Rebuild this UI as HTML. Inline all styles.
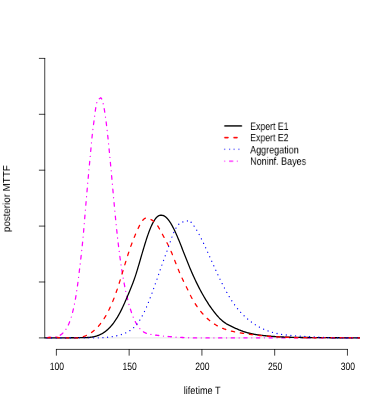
<!DOCTYPE html><html><head><meta charset="utf-8"><style>html,body{margin:0;padding:0;background:#fff}svg{display:block;will-change:transform}text{text-rendering:geometricPrecision;font-family:"Liberation Sans",sans-serif;font-size:13.1px;fill:#000}</style></head><body>
<svg width="382" height="409" viewBox="0 0 504 504" preserveAspectRatio="none">
<rect width="504" height="504" fill="#fff"/>
<clipPath id="c"><rect x="59.04" y="59.04" width="415.82" height="371.52"/></clipPath>
<line x1="59.04" y1="416.39" x2="473.76" y2="416.39" stroke="#d3d3d3" stroke-width="0.75"/>
<path d="M59.04,416.39 V71.96 M59.04,416.39 h-7.2 M59.04,347.50 h-7.2 M59.04,278.62 h-7.2 M59.04,209.73 h-7.2 M59.04,140.85 h-7.2 M59.04,71.96 h-7.2" stroke="#000" stroke-width="0.95" fill="none" stroke-linecap="round" stroke-linejoin="round"/>
<path d="M74.40,430.56 H458.40 M74.40,430.56 v7.2 M170.40,430.56 v7.2 M266.40,430.56 v7.2 M362.40,430.56 v7.2 M458.40,430.56 v7.2" stroke="#000" stroke-width="0.95" fill="none" stroke-linecap="round" stroke-linejoin="round"/>
 <text x="75.00" y="456.26" text-anchor="middle" textLength="18.87" lengthAdjust="spacingAndGlyphs">100</text>
 <text x="171.00" y="456.26" text-anchor="middle" textLength="18.87" lengthAdjust="spacingAndGlyphs">150</text>
 <text x="267.00" y="456.26" text-anchor="middle" textLength="18.87" lengthAdjust="spacingAndGlyphs">200</text>
 <text x="363.00" y="456.26" text-anchor="middle" textLength="18.87" lengthAdjust="spacingAndGlyphs">250</text>
 <text x="459.00" y="456.26" text-anchor="middle" textLength="18.87" lengthAdjust="spacingAndGlyphs">300</text>
<text x="266.80" y="485.96" text-anchor="middle" textLength="48.7" lengthAdjust="spacingAndGlyphs">lifetime T</text>
<text transform="translate(12.96,244.80) rotate(-90)" text-anchor="middle" textLength="82.4" lengthAdjust="spacingAndGlyphs">posterior MTTF</text>
<path d="M58.05,416.21 L58.38,416.17 L58.71,416.13 L59.04,416.10 L59.37,416.06 L59.70,416.04 L60.03,416.01 L60.36,415.99 L60.69,415.97 L61.02,415.96 L61.35,415.94 L61.68,415.93 L62.01,415.92 L62.34,415.91 L62.67,415.91 L63.00,415.91 L63.33,415.90 L63.66,415.90 L63.99,415.90 L64.32,415.90 L64.65,415.90 L64.98,415.90 L65.31,415.90 L65.64,415.90 L65.97,415.90 L66.30,415.90 L66.63,415.90 L66.96,415.90 L67.29,415.89 L67.62,415.89 L67.95,415.88 L68.28,415.87 L68.61,415.86 L68.94,415.85 L69.27,415.84 L69.60,415.82 L69.93,415.80 L70.26,415.77 L70.59,415.75 L70.92,415.72 L71.25,415.68 L71.58,415.64 L71.91,415.60 L72.24,415.56 L72.57,415.51 L72.90,415.45 L73.23,415.39 L73.55,415.32 L73.88,415.25 L74.21,415.18 L74.54,415.09 L74.87,415.01 L75.20,414.91 L75.53,414.81 L75.86,414.70 L76.19,414.59 L76.52,414.47 L76.85,414.34 L77.18,414.20 L77.51,414.06 L77.84,413.91 L78.17,413.75 L78.50,413.58 L78.83,413.41 L79.16,413.22 L79.49,413.03 L79.82,412.83 L80.15,412.62 L80.48,412.40 L80.81,412.17 L81.14,411.93 L81.47,411.67 L81.80,411.41 L82.13,411.14 L82.46,410.86 L82.79,410.57 L83.12,410.26 L83.45,409.95 L83.78,409.62 L84.11,409.28 L84.44,408.93 L84.77,408.57 L85.10,408.19 L85.43,407.81 L85.76,407.41 L86.09,406.99 L86.42,406.56 L86.75,406.12 L87.08,405.66 L87.41,405.18 L87.74,404.68 L88.07,404.16 L88.40,403.63 L88.73,403.07 L89.06,402.50 L89.39,401.90 L89.72,401.28 L90.05,400.63 L90.38,399.96 L90.71,399.26 L91.04,398.54 L91.37,397.79 L91.70,397.02 L92.03,396.21 L92.36,395.38 L92.69,394.51 L93.02,393.62 L93.35,392.69 L93.68,391.73 L94.01,390.73 L94.34,389.71 L94.66,388.64 L94.99,387.54 L95.32,386.41 L95.65,385.23 L95.98,384.02 L96.31,382.77 L96.64,381.48 L96.97,380.14 L97.30,378.77 L97.63,377.35 L97.96,375.89 L98.29,374.39 L98.62,372.84 L98.95,371.23 L99.28,369.58 L99.61,367.87 L99.94,366.10 L100.27,364.28 L100.60,362.39 L100.93,360.44 L101.26,358.42 L101.59,356.34 L101.92,354.18 L102.25,351.95 L102.58,349.65 L102.91,347.30 L103.24,344.89 L103.57,342.43 L103.90,339.94 L104.23,337.43 L104.56,334.89 L104.89,332.34 L105.22,329.78 L105.55,327.22 L105.88,324.64 L106.21,322.05 L106.54,319.42 L106.87,316.76 L107.20,314.06 L107.53,311.31 L107.86,308.50 L108.19,305.63 L108.52,302.68 L108.85,299.66 L109.18,296.55 L109.51,293.34 L109.84,290.04 L110.17,286.62 L110.50,283.11 L110.83,279.50 L111.16,275.83 L111.49,272.12 L111.82,268.38 L112.15,264.63 L112.48,260.89 L112.81,257.19 L113.14,253.53 L113.47,249.90 L113.80,246.32 L114.13,242.77 L114.46,239.25 L114.79,235.77 L115.12,232.31 L115.45,228.88 L115.77,225.48 L116.10,222.09 L116.43,218.73 L116.76,215.38 L117.09,212.05 L117.42,208.72 L117.75,205.41 L118.08,202.11 L118.41,198.81 L118.74,195.52 L119.07,192.22 L119.40,188.93 L119.73,185.63 L120.06,182.32 L120.39,179.02 L120.72,175.76 L121.05,172.56 L121.38,169.47 L121.71,166.51 L122.04,163.71 L122.37,161.05 L122.70,158.52 L123.03,156.08 L123.36,153.70 L123.69,151.36 L124.02,149.02 L124.35,146.67 L124.68,144.27 L125.01,141.85 L125.34,139.45 L125.67,137.13 L126.00,134.90 L126.33,132.84 L126.66,130.96 L126.99,129.32 L127.32,127.90 L127.65,126.68 L127.98,125.64 L128.31,124.77 L128.64,124.05 L128.97,123.46 L129.30,122.99 L129.63,122.61 L129.96,122.30 L130.29,122.06 L130.62,121.86 L130.95,121.68 L131.28,121.51 L131.61,121.32 L131.94,121.11 L132.27,120.84 L132.60,120.52 L132.93,120.56 L133.26,120.74 L133.59,121.05 L133.92,121.49 L134.25,122.07 L134.58,122.77 L134.91,123.60 L135.24,124.54 L135.57,125.61 L135.90,126.79 L136.23,128.09 L136.55,129.49 L136.88,131.00 L137.21,132.62 L137.54,134.33 L137.87,136.15 L138.20,138.06 L138.53,140.06 L138.86,142.16 L139.19,144.34 L139.52,146.60 L139.85,148.95 L140.18,151.37 L140.51,153.87 L140.84,156.45 L141.17,159.09 L141.50,161.80 L141.83,164.57 L142.16,167.40 L142.49,170.30 L142.82,173.25 L143.15,176.25 L143.48,179.30 L143.81,182.39 L144.14,185.53 L144.47,188.71 L144.80,191.92 L145.13,195.17 L145.46,198.45 L145.79,201.75 L146.12,205.08 L146.45,208.43 L146.78,211.79 L147.11,215.17 L147.44,218.56 L147.77,221.96 L148.10,225.37 L148.43,228.77 L148.76,232.17 L149.09,235.57 L149.42,238.96 L149.75,242.34 L150.08,245.71 L150.41,249.05 L150.74,252.38 L151.07,255.68 L151.40,258.96 L151.73,262.20 L152.06,265.41 L152.39,268.58 L152.72,271.72 L153.05,274.81 L153.38,277.85 L153.71,280.85 L154.04,283.79 L154.37,286.68 L154.70,289.52 L155.03,292.30 L155.36,295.02 L155.69,297.70 L156.02,300.32 L156.35,302.90 L156.68,305.42 L157.01,307.90 L157.34,310.32 L157.66,312.70 L157.99,315.03 L158.32,317.32 L158.65,319.56 L158.98,321.76 L159.31,323.91 L159.64,326.02 L159.97,328.09 L160.30,330.11 L160.63,332.10 L160.96,334.04 L161.29,335.95 L161.62,337.82 L161.95,339.64 L162.28,341.44 L162.61,343.19 L162.94,344.91 L163.27,346.60 L163.60,348.25 L163.93,349.87 L164.26,351.45 L164.59,353.00 L164.92,354.52 L165.25,356.02 L165.58,357.48 L165.91,358.91 L166.24,360.32 L166.57,361.69 L166.90,363.04 L167.23,364.37 L167.56,365.67 L167.89,366.94 L168.22,368.19 L168.55,369.42 L168.88,370.62 L169.21,371.80 L169.54,372.96 L169.87,374.09 L170.20,375.21 L170.53,376.29 L170.86,377.36 L171.19,378.40 L171.52,379.43 L171.85,380.43 L172.18,381.41 L172.51,382.36 L172.84,383.30 L173.17,384.22 L173.50,385.12 L173.83,385.99 L174.16,386.85 L174.49,387.69 L174.82,388.50 L175.15,389.30 L175.48,390.08 L175.81,390.84 L176.14,391.58 L176.47,392.31 L176.80,393.02 L177.13,393.70 L177.46,394.38 L177.79,395.03 L178.12,395.67 L178.45,396.29 L178.77,396.89 L179.10,397.48 L179.43,398.05 L179.76,398.61 L180.09,399.15 L180.42,399.67 L180.75,400.18 L181.08,400.67 L181.41,401.16 L181.74,401.62 L182.07,402.07 L182.40,402.51 L182.73,402.94 L183.06,403.35 L183.39,403.75 L183.72,404.13 L184.05,404.50 L184.38,404.86 L184.71,405.21 L185.04,405.55 L185.37,405.87 L185.70,406.18 L186.03,406.49 L186.36,406.78 L186.69,407.06 L187.02,407.33 L187.35,407.58 L187.68,407.83 L188.01,408.07 L188.34,408.30 L188.67,408.52 L189.00,408.74 L189.33,408.94 L189.66,409.13 L189.99,409.32 L190.32,409.50 L190.65,409.67 L190.98,409.83 L191.31,409.98 L191.64,410.13 L191.97,410.27 L192.30,410.41 L192.63,410.53 L192.96,410.66 L193.29,410.77 L193.62,410.88 L193.95,410.99 L194.28,411.09 L194.61,411.18 L194.94,411.27 L195.27,411.35 L195.60,411.44 L195.93,411.51 L196.26,411.59 L196.59,411.66 L196.92,411.72 L197.25,411.79 L197.58,411.85 L197.91,411.90 L198.24,411.96 L198.57,412.01 L198.90,412.07 L199.23,412.12 L199.55,412.16 L199.88,412.21 L200.21,412.26 L200.54,412.30 L200.87,412.35 L201.20,412.40 L201.53,412.44 L201.86,412.49 L202.19,412.53 L202.52,412.58 L202.85,412.62 L203.18,412.66 L203.51,412.71 L203.84,412.75 L204.17,412.79 L204.50,412.83 L204.83,412.88 L205.16,412.92 L205.49,412.96 L205.82,413.00 L206.15,413.04 L206.48,413.08 L206.81,413.12 L207.14,413.16 L207.47,413.20 L207.80,413.24 L208.13,413.28 L208.46,413.32 L208.79,413.36 L209.12,413.40 L209.45,413.44 L209.78,413.48 L210.11,413.51 L210.44,413.55 L210.77,413.59 L211.10,413.62 L211.43,413.66 L211.76,413.70 L212.09,413.73 L212.42,413.77 L212.75,413.80 L213.08,413.84 L213.41,413.87 L213.74,413.91 L214.07,413.94 L214.40,413.98 L214.73,414.01 L215.06,414.04 L215.39,414.08 L215.72,414.11 L216.05,414.14 L216.38,414.18 L216.71,414.21 L217.04,414.24 L217.37,414.27 L217.70,414.30 L218.03,414.33 L218.36,414.36 L218.69,414.40 L219.02,414.43 L219.35,414.46 L219.68,414.49 L220.01,414.52 L220.34,414.54 L220.66,414.57 L220.99,414.60 L221.32,414.63 L221.65,414.66 L221.98,414.69 L222.31,414.72 L222.64,414.74 L222.97,414.77 L223.30,414.80 L223.63,414.82 L223.96,414.85 L224.29,414.88 L224.62,414.90 L224.95,414.93 L225.28,414.95 L225.61,414.98 L225.94,415.00 L226.27,415.03 L226.60,415.05 L226.93,415.08 L227.26,415.10 L227.59,415.13 L227.92,415.15 L228.25,415.17 L228.58,415.20 L228.91,415.22 L229.24,415.24 L229.57,415.26 L229.90,415.29 L230.23,415.31 L230.56,415.33 L230.89,415.35 L231.22,415.37 L231.55,415.39 L231.88,415.42 L232.21,415.44 L232.54,415.46 L232.87,415.48 L233.20,415.50 L233.53,415.52 L233.86,415.54 L234.19,415.56 L234.52,415.57 L234.85,415.59 L235.18,415.61 L235.51,415.63 L235.84,415.65 L236.17,415.67 L236.50,415.68 L236.83,415.70 L237.16,415.72 L237.49,415.74 L237.82,415.75 L238.15,415.77 L238.48,415.79 L238.81,415.80 L239.14,415.82 L239.47,415.83 L239.80,415.85 L240.13,415.87 L240.46,415.88 L240.79,415.90 L241.12,415.91 L241.45,415.93 L241.77,415.94 L242.10,415.95 L242.43,415.97 L242.76,415.98 L243.09,416.00 L243.42,416.01 L243.75,416.02 L244.08,416.03 L244.41,416.05 L244.74,416.06 L245.07,416.07 L245.40,416.08 L245.73,416.10 L246.06,416.11 L246.39,416.12 L246.72,416.13 L247.05,416.14 L247.38,416.15 L247.71,416.16 L248.04,416.18 L248.37,416.19 L248.70,416.20 L249.03,416.21 L249.36,416.22 L249.69,416.23 L250.02,416.24 L250.35,416.24 L250.68,416.25 L251.01,416.26 L251.34,416.27 L251.67,416.28 L252.00,416.29 L252.33,416.30 L252.66,416.30 L252.99,416.31 L253.32,416.32 L253.65,416.33 L253.98,416.34 L254.31,416.34 L254.64,416.35 L254.97,416.36 L255.30,416.36 L255.63,416.37 L255.96,416.38 L256.29,416.38 L256.62,416.39 L256.95,416.39 L257.28,416.39 L257.61,416.39 L257.94,416.39 L258.27,416.39 L258.60,416.39 L258.93,416.39 L259.26,416.39 L259.59,416.39 L259.92,416.39 L260.25,416.39 L260.58,416.39 L260.91,416.39 L261.24,416.39 L261.57,416.39 L261.90,416.39 L262.23,416.39 L262.55,416.39 L262.88,416.39 L263.21,416.39 L263.54,416.39 L263.87,416.39 L264.20,416.39 L264.53,416.39 L264.86,416.39 L265.19,416.39 L265.52,416.39 L265.85,416.39 L266.18,416.39 L266.51,416.39 L266.84,416.39 L267.17,416.39 L267.50,416.39 L267.83,416.39 L268.16,416.39 L268.49,416.39 L268.82,416.39 L269.15,416.39 L269.48,416.39 L269.81,416.39 L270.14,416.39 L270.47,416.39 L270.80,416.39 L271.13,416.39 L271.46,416.39 L271.79,416.39 L272.12,416.39 L272.45,416.39 L272.78,416.39 L273.11,416.39 L273.44,416.39 L273.77,416.39 L274.10,416.39 L274.43,416.39 L274.76,416.39 L275.09,416.39 L275.42,416.39 L275.75,416.39 L276.08,416.39 L276.41,416.39 L276.74,416.39 L277.07,416.39 L277.40,416.39 L277.73,416.39 L278.06,416.39 L278.39,416.39 L278.72,416.39 L279.05,416.39 L279.38,416.39 L279.71,416.39 L280.04,416.39 L280.37,416.39 L280.70,416.39 L281.03,416.39 L281.36,416.39 L281.69,416.39 L282.02,416.39 L282.35,416.39 L282.68,416.39 L283.01,416.39 L283.34,416.39 L283.66,416.39 L283.99,416.39 L284.32,416.39 L284.65,416.39 L284.98,416.39 L285.31,416.39 L285.64,416.39 L285.97,416.39 L286.30,416.39 L286.63,416.39 L286.96,416.39 L287.29,416.39 L287.62,416.39 L287.95,416.39 L288.28,416.39 L288.61,416.39 L288.94,416.39 L289.27,416.39 L289.60,416.39 L289.93,416.39 L290.26,416.39 L290.59,416.39 L290.92,416.39 L291.25,416.39 L291.58,416.39 L291.91,416.39 L292.24,416.39 L292.57,416.39 L292.90,416.39 L293.23,416.39 L293.56,416.39 L293.89,416.39 L294.22,416.39 L294.55,416.39 L294.88,416.39 L295.21,416.39 L295.54,416.39 L295.87,416.39 L296.20,416.39 L296.53,416.39 L296.86,416.39 L297.19,416.39 L297.52,416.39 L297.85,416.39 L298.18,416.39 L298.51,416.39 L298.84,416.39 L299.17,416.39 L299.50,416.39 L299.83,416.39 L300.16,416.39 L300.49,416.39 L300.82,416.39 L301.15,416.39 L301.48,416.39 L301.81,416.39 L302.14,416.39 L302.47,416.39 L302.80,416.39 L303.13,416.39 L303.46,416.39 L303.79,416.39 L304.12,416.39 L304.45,416.39 L304.77,416.39 L305.10,416.39 L305.43,416.39 L305.76,416.39 L306.09,416.39 L306.42,416.39 L306.75,416.38 L307.08,416.38 L307.41,416.38 L307.74,416.38 L308.07,416.38 L308.40,416.38 L308.73,416.38 L309.06,416.38 L309.39,416.38 L309.72,416.37 L310.05,416.37 L310.38,416.37 L310.71,416.37 L311.04,416.37 L311.37,416.37 L311.70,416.37 L312.03,416.37 L312.36,416.37 L312.69,416.37 L313.02,416.36 L313.35,416.36 L313.68,416.36 L314.01,416.36 L314.34,416.36 L314.67,416.36 L315.00,416.36 L315.33,416.36 L315.66,416.36 L315.99,416.36 L316.32,416.36 L316.65,416.35 L316.98,416.35 L317.31,416.35 L317.64,416.35 L317.97,416.35 L318.30,416.35 L318.63,416.35 L318.96,416.35 L319.29,416.35 L319.62,416.35 L319.95,416.35 L320.28,416.35 L320.61,416.35 L320.94,416.35 L321.27,416.34 L321.60,416.34 L321.93,416.34 L322.26,416.34 L322.59,416.34 L322.92,416.34 L323.25,416.34 L323.58,416.34 L323.91,416.34 L324.24,416.34 L324.57,416.34 L324.90,416.34 L325.23,416.34 L325.55,416.34 L325.88,416.34 L326.21,416.34 L326.54,416.34 L326.87,416.34 L327.20,416.34 L327.53,416.34 L327.86,416.33 L328.19,416.33 L328.52,416.33 L328.85,416.33 L329.18,416.33 L329.51,416.33 L329.84,416.33 L330.17,416.33 L330.50,416.33 L330.83,416.33 L331.16,416.33 L331.49,416.33 L331.82,416.33 L332.15,416.33 L332.48,416.33 L332.81,416.33 L333.14,416.33 L333.47,416.33 L333.80,416.33 L334.13,416.33 L334.46,416.33 L334.79,416.33 L335.12,416.33 L335.45,416.33 L335.78,416.33 L336.11,416.33 L336.44,416.33 L336.77,416.33 L337.10,416.33 L337.43,416.33 L337.76,416.33 L338.09,416.33 L338.42,416.33 L338.75,416.33 L339.08,416.33 L339.41,416.33 L339.74,416.33 L340.07,416.33 L340.40,416.33 L340.73,416.33 L341.06,416.33 L341.39,416.33 L341.72,416.33 L342.05,416.33 L342.38,416.33 L342.71,416.33 L343.04,416.33 L343.37,416.33 L343.70,416.33 L344.03,416.33 L344.36,416.33 L344.69,416.33 L345.02,416.33 L345.35,416.33 L345.68,416.33 L346.01,416.33 L346.34,416.33 L346.66,416.33 L346.99,416.33 L347.32,416.33 L347.65,416.33 L347.98,416.33 L348.31,416.33 L348.64,416.33 L348.97,416.33 L349.30,416.33 L349.63,416.33 L349.96,416.33 L350.29,416.33 L350.62,416.33 L350.95,416.33 L351.28,416.33 L351.61,416.33 L351.94,416.33 L352.27,416.33 L352.60,416.33 L352.93,416.33 L353.26,416.33 L353.59,416.33 L353.92,416.33 L354.25,416.33 L354.58,416.33 L354.91,416.33 L355.24,416.33 L355.57,416.33 L355.90,416.33 L356.23,416.33 L356.56,416.34 L356.89,416.34 L357.22,416.34 L357.55,416.34 L357.88,416.34 L358.21,416.34 L358.54,416.34 L358.87,416.34 L359.20,416.34 L359.53,416.34 L359.86,416.34 L360.19,416.34 L360.52,416.34 L360.85,416.34 L361.18,416.34 L361.51,416.34 L361.84,416.34 L362.17,416.34 L362.50,416.34 L362.83,416.34 L363.16,416.34 L363.49,416.34 L363.82,416.34 L364.15,416.34 L364.48,416.34 L364.81,416.34 L365.14,416.34 L365.47,416.35 L365.80,416.35 L366.13,416.35 L366.46,416.35 L366.79,416.35 L367.12,416.35 L367.45,416.35 L367.77,416.35 L368.10,416.35 L368.43,416.35 L368.76,416.35 L369.09,416.35 L369.42,416.35 L369.75,416.35 L370.08,416.35 L370.41,416.35 L370.74,416.35 L371.07,416.35 L371.40,416.35 L371.73,416.35 L372.06,416.35 L372.39,416.36 L372.72,416.36 L373.05,416.36 L373.38,416.36 L373.71,416.36 L374.04,416.36 L374.37,416.36 L374.70,416.36 L375.03,416.36 L375.36,416.36 L375.69,416.36 L376.02,416.36 L376.35,416.36 L376.68,416.36 L377.01,416.36 L377.34,416.36 L377.67,416.36 L378.00,416.36 L378.33,416.36 L378.66,416.37 L378.99,416.37 L379.32,416.37 L379.65,416.37 L379.98,416.37 L380.31,416.37 L380.64,416.37 L380.97,416.37 L381.30,416.37 L381.63,416.37 L381.96,416.37 L382.29,416.37 L382.62,416.37 L382.95,416.37 L383.28,416.37 L383.61,416.37 L383.94,416.37 L384.27,416.37 L384.60,416.38 L384.93,416.38 L385.26,416.38 L385.59,416.38 L385.92,416.38 L386.25,416.38 L386.58,416.38 L386.91,416.38 L387.24,416.38 L387.57,416.38 L387.90,416.38 L388.23,416.38 L388.55,416.38 L388.88,416.38 L389.21,416.38 L389.54,416.38 L389.87,416.38 L390.20,416.38 L390.53,416.39 L390.86,416.39 L391.19,416.39 L391.52,416.39 L391.85,416.39 L392.18,416.39 L392.51,416.39 L392.84,416.39 L393.17,416.39 L393.50,416.39 L393.83,416.39 L394.16,416.39 L394.49,416.39 L394.82,416.39 L395.15,416.39 L395.48,416.39 L395.81,416.39 L396.14,416.39 L396.47,416.39 L396.80,416.39 L397.13,416.39 L397.46,416.39 L397.79,416.39 L398.12,416.39 L398.45,416.39 L398.78,416.39 L399.11,416.39 L399.44,416.39 L399.77,416.39 L400.10,416.39 L400.43,416.39 L400.76,416.39 L401.09,416.39 L401.42,416.39 L401.75,416.39 L402.08,416.39 L402.41,416.39 L402.74,416.39 L403.07,416.39 L403.40,416.39 L403.73,416.39 L404.06,416.39 L404.39,416.39 L404.72,416.39 L405.05,416.39 L405.38,416.39 L405.71,416.39 L406.04,416.39 L406.37,416.39 L406.70,416.39 L407.03,416.39 L407.36,416.39 L407.69,416.39 L408.02,416.39 L408.35,416.39 L408.68,416.39 L409.01,416.39 L409.34,416.39 L409.66,416.39 L409.99,416.39 L410.32,416.39 L410.65,416.39 L410.98,416.39 L411.31,416.39 L411.64,416.39 L411.97,416.39 L412.30,416.39 L412.63,416.39 L412.96,416.39 L413.29,416.39 L413.62,416.39 L413.95,416.39 L414.28,416.39 L414.61,416.39 L414.94,416.39 L415.27,416.39 L415.60,416.39 L415.93,416.39 L416.26,416.39 L416.59,416.39 L416.92,416.39 L417.25,416.39 L417.58,416.39 L417.91,416.39 L418.24,416.39 L418.57,416.39 L418.90,416.39 L419.23,416.39 L419.56,416.39 L419.89,416.39 L420.22,416.39 L420.55,416.39 L420.88,416.39 L421.21,416.39 L421.54,416.39 L421.87,416.39 L422.20,416.39 L422.53,416.39 L422.86,416.39 L423.19,416.39 L423.52,416.39 L423.85,416.39 L424.18,416.39 L424.51,416.39 L424.84,416.39 L425.17,416.39 L425.50,416.39 L425.83,416.39 L426.16,416.39 L426.49,416.39 L426.82,416.39 L427.15,416.39 L427.48,416.39 L427.81,416.39 L428.14,416.39 L428.47,416.39 L428.80,416.39 L429.13,416.39 L429.46,416.39 L429.79,416.39 L430.12,416.39 L430.45,416.39 L430.77,416.39 L431.10,416.39 L431.43,416.39 L431.76,416.39 L432.09,416.39 L432.42,416.39 L432.75,416.39 L433.08,416.39 L433.41,416.39 L433.74,416.39 L434.07,416.39 L434.40,416.39 L434.73,416.39 L435.06,416.39 L435.39,416.39 L435.72,416.39 L436.05,416.39 L436.38,416.39 L436.71,416.39 L437.04,416.39 L437.37,416.39 L437.70,416.39 L438.03,416.39 L438.36,416.39 L438.69,416.39 L439.02,416.39 L439.35,416.39 L439.68,416.39 L440.01,416.39 L440.34,416.39 L440.67,416.39 L441.00,416.39 L441.33,416.39 L441.66,416.39 L441.99,416.39 L442.32,416.39 L442.65,416.39 L442.98,416.39 L443.31,416.39 L443.64,416.39 L443.97,416.39 L444.30,416.39 L444.63,416.39 L444.96,416.39 L445.29,416.39 L445.62,416.39 L445.95,416.39 L446.28,416.39 L446.61,416.39 L446.94,416.39 L447.27,416.39 L447.60,416.39 L447.93,416.39 L448.26,416.39 L448.59,416.39 L448.92,416.39 L449.25,416.39 L449.58,416.39 L449.91,416.39 L450.24,416.39 L450.57,416.39 L450.90,416.39 L451.23,416.39 L451.55,416.39 L451.88,416.39 L452.21,416.39 L452.54,416.39 L452.87,416.39 L453.20,416.39 L453.53,416.39 L453.86,416.39 L454.19,416.39 L454.52,416.39 L454.85,416.39 L455.18,416.39 L455.51,416.39 L455.84,416.39 L456.17,416.39 L456.50,416.39 L456.83,416.39 L457.16,416.39 L457.49,416.39 L457.82,416.39 L458.15,416.39 L458.48,416.39 L458.81,416.39 L459.14,416.39 L459.47,416.38 L459.80,416.38 L460.13,416.38 L460.46,416.38 L460.79,416.38 L461.12,416.38 L461.45,416.38 L461.78,416.38 L462.11,416.38 L462.44,416.37 L462.77,416.37 L463.10,416.37 L463.43,416.37 L463.76,416.37 L464.09,416.37 L464.42,416.37 L464.75,416.37 L465.08,416.36 L465.41,416.36 L465.74,416.36 L466.07,416.36 L466.40,416.36 L466.73,416.36 L467.06,416.36 L467.39,416.36 L467.72,416.35 L468.05,416.35 L468.38,416.35 L468.71,416.35 L469.04,416.35 L469.37,416.35 L469.70,416.35 L470.03,416.34 L470.36,416.34 L470.69,416.34 L471.02,416.34 L471.35,416.34 L471.68,416.34 L472.01,416.34 L472.34,416.33 L472.66,416.33 L472.99,416.33 L473.32,416.33 L473.65,416.33 L473.98,416.33 L474.31,416.32 L474.64,416.32 L474.97,416.32 L475.30,416.32 L475.63,416.32 L475.96,416.31 L476.29,416.31" stroke="#f0f" stroke-width="1.65" stroke-dasharray="0.01 6.15 4.35 6.15" stroke-dashoffset="0.9" fill="none" stroke-linejoin="round" stroke-linecap="round" clip-path="url(#c)"/>
<path d="M58.05,416.32 L58.71,416.34 L59.37,416.36 L60.03,416.37 L60.69,416.39 L61.35,416.39 L62.01,416.39 L62.67,416.39 L63.33,416.39 L63.99,416.39 L64.65,416.39 L65.31,416.39 L65.97,416.39 L66.63,416.39 L67.29,416.39 L67.95,416.39 L68.61,416.39 L69.27,416.39 L69.93,416.39 L70.59,416.39 L71.25,416.39 L71.91,416.39 L72.57,416.39 L73.23,416.39 L73.88,416.39 L74.54,416.39 L75.20,416.39 L75.86,416.39 L76.52,416.39 L77.18,416.39 L77.84,416.39 L78.50,416.39 L79.16,416.39 L79.82,416.39 L80.48,416.39 L81.14,416.39 L81.80,416.39 L82.46,416.39 L83.12,416.39 L83.78,416.39 L84.44,416.38 L85.10,416.37 L85.76,416.36 L86.42,416.35 L87.08,416.34 L87.74,416.33 L88.40,416.32 L89.06,416.31 L89.72,416.31 L90.38,416.30 L91.04,416.29 L91.70,416.28 L92.36,416.27 L93.02,416.26 L93.68,416.25 L94.34,416.24 L94.99,416.23 L95.65,416.22 L96.31,416.21 L96.97,416.21 L97.63,416.20 L98.29,416.19 L98.95,416.18 L99.61,416.18 L100.27,416.17 L100.93,416.16 L101.59,416.16 L102.25,416.15 L102.91,416.15 L103.57,416.14 L104.23,416.14 L104.89,416.13 L105.55,416.13 L106.21,416.13 L106.87,416.13 L107.53,416.12 L108.19,416.12 L108.85,416.12 L109.51,416.11 L110.17,416.10 L110.83,416.10 L111.49,416.08 L112.15,416.07 L112.81,416.05 L113.47,416.03 L114.13,416.01 L114.79,415.98 L115.45,415.94 L116.10,415.90 L116.76,415.86 L117.42,415.81 L118.08,415.75 L118.74,415.68 L119.40,415.61 L120.06,415.53 L120.72,415.45 L121.38,415.35 L122.04,415.25 L122.70,415.14 L123.36,415.02 L124.02,414.88 L124.68,414.74 L125.34,414.59 L126.00,414.43 L126.66,414.25 L127.32,414.07 L127.98,413.87 L128.64,413.66 L129.30,413.44 L129.96,413.20 L130.62,412.95 L131.28,412.69 L131.94,412.41 L132.60,412.12 L133.26,411.81 L133.92,411.49 L134.58,411.15 L135.24,410.79 L135.90,410.42 L136.55,410.03 L137.21,409.62 L137.87,409.20 L138.53,408.76 L139.19,408.30 L139.85,407.82 L140.51,407.32 L141.17,406.80 L141.83,406.26 L142.49,405.70 L143.15,405.12 L143.81,404.52 L144.47,403.90 L145.13,403.25 L145.79,402.58 L146.45,401.89 L147.11,401.18 L147.77,400.44 L148.43,399.68 L149.09,398.90 L149.75,398.09 L150.41,397.26 L151.07,396.40 L151.73,395.51 L152.39,394.60 L153.05,393.66 L153.71,392.69 L154.37,391.70 L155.03,390.68 L155.69,389.63 L156.35,388.56 L157.01,387.45 L157.66,386.32 L158.32,385.15 L158.98,383.96 L159.64,382.75 L160.30,381.50 L160.96,380.24 L161.62,378.95 L162.28,377.64 L162.94,376.31 L163.60,374.96 L164.26,373.59 L164.92,372.20 L165.58,370.80 L166.24,369.38 L166.90,367.95 L167.56,366.50 L168.22,365.05 L168.88,363.58 L169.54,362.11 L170.20,360.62 L170.86,359.13 L171.52,357.63 L172.18,356.13 L172.84,354.62 L173.50,353.09 L174.16,351.55 L174.82,349.98 L175.48,348.37 L176.14,346.73 L176.80,345.05 L177.46,343.31 L178.12,341.51 L178.77,339.66 L179.43,337.76 L180.09,335.81 L180.75,333.81 L181.41,331.79 L182.07,329.73 L182.73,327.65 L183.39,325.54 L184.05,323.43 L184.71,321.30 L185.37,319.17 L186.03,317.05 L186.69,314.92 L187.35,312.81 L188.01,310.70 L188.67,308.61 L189.33,306.53 L189.99,304.47 L190.65,302.44 L191.31,300.43 L191.97,298.45 L192.63,296.50 L193.29,294.59 L193.95,292.72 L194.61,290.89 L195.27,289.10 L195.93,287.37 L196.59,285.68 L197.25,284.05 L197.91,282.48 L198.57,280.96 L199.23,279.51 L199.88,278.13 L200.54,276.81 L201.20,275.55 L201.86,274.37 L202.52,273.25 L203.18,272.20 L203.84,271.21 L204.50,270.31 L205.16,269.47 L205.82,268.70 L206.48,268.01 L207.14,267.40 L207.80,266.86 L208.46,266.39 L209.12,266.01 L209.78,265.70 L210.44,265.47 L211.10,265.33 L211.76,265.26 L212.42,265.28 L212.68,265.31 L213.08,265.29 L213.74,265.30 L214.40,265.38 L215.06,265.53 L215.72,265.74 L216.38,266.01 L217.04,266.35 L217.70,266.74 L218.36,267.20 L219.02,267.71 L219.68,268.28 L220.34,268.90 L220.99,269.57 L221.65,270.30 L222.31,271.08 L222.97,271.91 L223.63,272.78 L224.29,273.70 L224.95,274.66 L225.61,275.67 L226.27,276.72 L226.93,277.81 L227.59,278.94 L228.25,280.10 L228.91,281.30 L229.57,282.54 L230.23,283.81 L230.89,285.11 L231.55,286.44 L232.21,287.80 L232.87,289.19 L233.53,290.60 L234.19,292.03 L234.85,293.49 L235.51,294.97 L236.17,296.47 L236.83,297.99 L237.49,299.52 L238.15,301.06 L238.81,302.61 L239.47,304.18 L240.13,305.75 L240.79,307.32 L241.45,308.90 L242.10,310.48 L242.76,312.06 L243.42,313.64 L244.08,315.21 L244.74,316.78 L245.40,318.34 L246.06,319.90 L246.72,321.44 L247.38,322.98 L248.04,324.51 L248.70,326.02 L249.36,327.53 L250.02,329.02 L250.68,330.49 L251.34,331.95 L252.00,333.39 L252.66,334.82 L253.32,336.23 L253.98,337.63 L254.64,339.01 L255.30,340.38 L255.96,341.73 L256.62,343.06 L257.28,344.39 L257.94,345.69 L258.60,346.98 L259.26,348.26 L259.92,349.52 L260.58,350.77 L261.24,352.00 L261.90,353.21 L262.55,354.42 L263.21,355.61 L263.87,356.78 L264.53,357.94 L265.19,359.09 L265.85,360.22 L266.51,361.34 L267.17,362.44 L267.83,363.53 L268.49,364.61 L269.15,365.67 L269.81,366.72 L270.47,367.75 L271.13,368.78 L271.79,369.79 L272.45,370.78 L273.11,371.76 L273.77,372.73 L274.43,373.69 L275.09,374.63 L275.75,375.56 L276.41,376.48 L277.07,377.39 L277.73,378.28 L278.39,379.16 L279.05,380.02 L279.71,380.88 L280.37,381.72 L281.03,382.55 L281.69,383.37 L282.35,384.17 L283.01,384.96 L283.66,385.74 L284.32,386.50 L284.98,387.25 L285.64,387.98 L286.30,388.70 L286.96,389.40 L287.62,390.08 L288.28,390.75 L288.94,391.41 L289.60,392.04 L290.26,392.66 L290.92,393.26 L291.58,393.85 L292.24,394.41 L292.90,394.96 L293.56,395.49 L294.22,396.00 L294.88,396.49 L295.54,396.96 L296.20,397.41 L296.86,397.84 L297.52,398.25 L298.18,398.65 L298.84,399.03 L299.50,399.40 L300.16,399.76 L300.82,400.10 L301.48,400.43 L302.14,400.76 L302.80,401.07 L303.46,401.38 L304.12,401.68 L304.77,401.97 L305.43,402.27 L306.09,402.56 L306.75,402.84 L307.41,403.13 L308.07,403.42 L308.73,403.70 L309.39,403.98 L310.05,404.26 L310.71,404.54 L311.37,404.82 L312.03,405.09 L312.69,405.36 L313.35,405.62 L314.01,405.89 L314.67,406.15 L315.33,406.40 L315.99,406.66 L316.65,406.90 L317.31,407.15 L317.97,407.39 L318.63,407.62 L319.29,407.85 L319.95,408.08 L320.61,408.30 L321.27,408.52 L321.93,408.72 L322.59,408.93 L323.25,409.13 L323.91,409.32 L324.57,409.51 L325.23,409.69 L325.88,409.86 L326.54,410.04 L327.20,410.20 L327.86,410.36 L328.52,410.52 L329.18,410.67 L329.84,410.82 L330.50,410.96 L331.16,411.10 L331.82,411.24 L332.48,411.37 L333.14,411.49 L333.80,411.61 L334.46,411.73 L335.12,411.85 L335.78,411.96 L336.44,412.07 L337.10,412.17 L337.76,412.28 L338.42,412.37 L339.08,412.47 L339.74,412.56 L340.40,412.65 L341.06,412.74 L341.72,412.83 L342.38,412.91 L343.04,412.99 L343.70,413.07 L344.36,413.15 L345.02,413.22 L345.68,413.30 L346.34,413.37 L346.99,413.44 L347.65,413.51 L348.31,413.58 L348.97,413.64 L349.63,413.71 L350.29,413.77 L350.95,413.83 L351.61,413.90 L352.27,413.96 L352.93,414.01 L353.59,414.07 L354.25,414.13 L354.91,414.18 L355.57,414.24 L356.23,414.29 L356.89,414.34 L357.55,414.39 L358.21,414.44 L358.87,414.49 L359.53,414.54 L360.19,414.58 L360.85,414.63 L361.51,414.67 L362.17,414.71 L362.83,414.76 L363.49,414.80 L364.15,414.84 L364.81,414.87 L365.47,414.91 L366.13,414.95 L366.79,414.98 L367.45,415.02 L368.10,415.05 L368.76,415.09 L369.42,415.12 L370.08,415.15 L370.74,415.18 L371.40,415.21 L372.06,415.24 L372.72,415.27 L373.38,415.29 L374.04,415.32 L374.70,415.34 L375.36,415.37 L376.02,415.39 L376.68,415.42 L377.34,415.44 L378.00,415.46 L378.66,415.48 L379.32,415.50 L379.98,415.52 L380.64,415.54 L381.30,415.56 L381.96,415.58 L382.62,415.59 L383.28,415.61 L383.94,415.63 L384.60,415.64 L385.26,415.66 L385.92,415.67 L386.58,415.68 L387.24,415.70 L387.90,415.71 L388.55,415.72 L389.21,415.73 L389.87,415.75 L390.53,415.76 L391.19,415.77 L391.85,415.78 L392.51,415.79 L393.17,415.80 L393.83,415.81 L394.49,415.81 L395.15,415.82 L395.81,415.83 L396.47,415.84 L397.13,415.84 L397.79,415.85 L398.45,415.86 L399.11,415.87 L399.77,415.87 L400.43,415.88 L401.09,415.88 L401.75,415.89 L402.41,415.89 L403.07,415.90 L403.73,415.90 L404.39,415.91 L405.05,415.91 L405.71,415.92 L406.37,415.92 L407.03,415.93 L407.69,415.93 L408.35,415.94 L409.01,415.94 L409.66,415.95 L410.32,415.95 L410.98,415.95 L411.64,415.96 L412.30,415.96 L412.96,415.97 L413.62,415.97 L414.28,415.98 L414.94,415.98 L415.60,415.99 L416.26,415.99 L416.92,416.00 L417.58,416.00 L418.24,416.01 L418.90,416.01 L419.56,416.02 L420.22,416.02 L420.88,416.03 L421.54,416.03 L422.20,416.04 L422.86,416.04 L423.52,416.05 L424.18,416.06 L424.84,416.06 L425.50,416.07 L426.16,416.07 L426.82,416.08 L427.48,416.08 L428.14,416.09 L428.80,416.10 L429.46,416.10 L430.12,416.11 L430.77,416.11 L431.43,416.12 L432.09,416.13 L432.75,416.13 L433.41,416.14 L434.07,416.14 L434.73,416.15 L435.39,416.16 L436.05,416.16 L436.71,416.17 L437.37,416.17 L438.03,416.18 L438.69,416.18 L439.35,416.19 L440.01,416.20 L440.67,416.20 L441.33,416.21 L441.99,416.21 L442.65,416.22 L443.31,416.22 L443.97,416.23 L444.63,416.23 L445.29,416.24 L445.95,416.24 L446.61,416.25 L447.27,416.25 L447.93,416.25 L448.59,416.26 L449.25,416.26 L449.91,416.27 L450.57,416.27 L451.23,416.27 L451.88,416.28 L452.54,416.28 L453.20,416.28 L453.86,416.29 L454.52,416.29 L455.18,416.29 L455.84,416.29 L456.50,416.30 L457.16,416.30 L457.82,416.30 L458.48,416.30 L459.14,416.30 L459.80,416.30 L460.46,416.30 L461.12,416.31 L461.78,416.31 L462.44,416.31 L463.10,416.31 L463.76,416.31 L464.42,416.31 L465.08,416.30 L465.74,416.30 L466.40,416.30 L467.06,416.30 L467.72,416.30 L468.38,416.30 L469.04,416.29 L469.70,416.29 L470.36,416.29 L471.02,416.28 L471.68,416.28 L472.34,416.28 L472.99,416.27 L473.65,416.27 L474.31,416.26 L474.97,416.26 L475.63,416.25 L476.29,416.24" stroke="#000" stroke-width="1.65" fill="none" stroke-linejoin="round" stroke-linecap="round" clip-path="url(#c)"/>
<path d="M58.05,416.39 L58.71,416.39 L59.37,416.39 L60.03,416.39 L60.69,416.38 L61.35,416.28 L62.01,416.19 L62.67,416.12 L63.33,416.05 L63.99,415.98 L64.65,415.93 L65.31,415.88 L65.97,415.84 L66.63,415.81 L67.29,415.78 L67.95,415.76 L68.61,415.74 L69.27,415.74 L69.93,415.73 L70.59,415.73 L71.25,415.74 L71.91,415.75 L72.57,415.77 L73.23,415.79 L73.88,415.81 L74.54,415.84 L75.20,415.87 L75.86,415.90 L76.52,415.94 L77.18,415.98 L77.84,416.02 L78.50,416.06 L79.16,416.10 L79.82,416.15 L80.48,416.19 L81.14,416.24 L81.80,416.29 L82.46,416.34 L83.12,416.38 L83.78,416.39 L84.44,416.39 L85.10,416.39 L85.76,416.39 L86.42,416.39 L87.08,416.39 L87.74,416.39 L88.40,416.39 L89.06,416.39 L89.72,416.39 L90.38,416.39 L91.04,416.39 L91.70,416.39 L92.36,416.39 L93.02,416.39 L93.68,416.39 L94.34,416.39 L94.99,416.39 L95.65,416.39 L96.31,416.39 L96.97,416.39 L97.63,416.39 L98.29,416.39 L98.95,416.39 L99.61,416.39 L100.27,416.39 L100.93,416.39 L101.59,416.39 L102.25,416.39 L102.91,416.34 L103.57,416.24 L104.23,416.13 L104.89,416.02 L105.55,415.89 L106.21,415.76 L106.87,415.61 L107.53,415.46 L108.19,415.29 L108.85,415.11 L109.51,414.93 L110.17,414.72 L110.83,414.51 L111.49,414.29 L112.15,414.05 L112.81,413.80 L113.47,413.54 L114.13,413.26 L114.79,412.97 L115.45,412.67 L116.10,412.35 L116.76,412.01 L117.42,411.67 L118.08,411.30 L118.74,410.93 L119.40,410.53 L120.06,410.12 L120.72,409.70 L121.38,409.26 L122.04,408.80 L122.70,408.32 L123.36,407.83 L124.02,407.32 L124.68,406.79 L125.34,406.24 L126.00,405.68 L126.66,405.09 L127.32,404.49 L127.98,403.86 L128.64,403.22 L129.30,402.55 L129.96,401.86 L130.62,401.15 L131.28,400.42 L131.94,399.67 L132.60,398.89 L133.26,398.09 L133.92,397.26 L134.58,396.41 L135.24,395.53 L135.90,394.63 L136.55,393.70 L137.21,392.75 L137.87,391.77 L138.53,390.76 L139.19,389.73 L139.85,388.66 L140.51,387.57 L141.17,386.45 L141.83,385.30 L142.49,384.12 L143.15,382.90 L143.81,381.66 L144.47,380.39 L145.13,379.08 L145.79,377.75 L146.45,376.38 L147.11,374.97 L147.77,373.54 L148.43,372.06 L149.09,370.56 L149.75,369.02 L150.41,367.44 L151.07,365.83 L151.73,364.19 L152.39,362.50 L153.05,360.78 L153.71,359.02 L154.37,357.23 L155.03,355.39 L155.69,353.53 L156.35,351.63 L157.01,349.70 L157.66,347.75 L158.32,345.78 L158.98,343.78 L159.64,341.78 L160.30,339.76 L160.96,337.72 L161.62,335.69 L162.28,333.64 L162.94,331.60 L163.60,329.56 L164.26,327.53 L164.92,325.50 L165.58,323.48 L166.24,321.48 L166.90,319.50 L167.56,317.53 L168.22,315.59 L168.88,313.68 L169.54,311.79 L170.20,309.94 L170.86,308.12 L171.52,306.33 L172.18,304.57 L172.84,302.85 L173.50,301.16 L174.16,299.50 L174.82,297.87 L175.48,296.26 L176.14,294.69 L176.80,293.15 L177.46,291.64 L178.12,290.15 L178.77,288.69 L179.43,287.26 L180.09,285.86 L180.75,284.48 L181.41,283.13 L182.07,281.81 L182.73,280.50 L183.39,279.23 L184.05,277.99 L184.71,276.80 L185.37,275.66 L186.03,274.58 L186.69,273.57 L187.35,272.64 L188.01,271.79 L188.67,271.03 L189.33,270.37 L189.99,269.83 L190.65,269.40 L191.31,269.09 L191.97,268.88 L192.63,268.78 L193.29,268.76 L193.95,268.81 L194.61,268.91 L195.27,269.07 L195.93,269.26 L196.59,269.47 L197.25,269.70 L197.91,269.96 L198.57,270.24 L199.23,270.54 L199.88,270.88 L200.54,271.25 L201.20,271.65 L201.86,272.09 L202.52,272.57 L203.18,273.09 L203.84,273.66 L204.50,274.27 L205.16,274.93 L205.82,275.64 L206.48,276.40 L207.14,277.22 L207.80,278.09 L208.46,279.03 L209.12,280.02 L209.78,281.05 L210.44,282.13 L211.10,283.24 L211.76,284.37 L212.42,285.51 L213.08,286.67 L213.74,287.82 L214.40,288.96 L215.06,290.10 L215.72,291.23 L216.38,292.35 L217.04,293.48 L217.70,294.61 L218.36,295.75 L219.02,296.89 L219.68,298.05 L220.34,299.22 L220.99,300.42 L221.65,301.63 L222.31,302.87 L222.97,304.14 L223.63,305.44 L224.29,306.77 L224.95,308.14 L225.61,309.55 L226.27,310.99 L226.93,312.47 L227.59,313.98 L228.25,315.51 L228.91,317.06 L229.57,318.63 L230.23,320.21 L230.89,321.80 L231.55,323.39 L232.21,324.98 L232.87,326.56 L233.53,328.14 L234.19,329.70 L234.85,331.25 L235.51,332.77 L236.17,334.26 L236.83,335.73 L237.49,337.16 L238.15,338.56 L238.81,339.93 L239.47,341.27 L240.13,342.58 L240.79,343.88 L241.45,345.16 L242.10,346.42 L242.76,347.67 L243.42,348.92 L244.08,350.17 L244.74,351.41 L245.40,352.66 L246.06,353.91 L246.72,355.18 L247.38,356.45 L248.04,357.75 L248.70,359.06 L249.36,360.37 L250.02,361.68 L250.68,362.96 L251.34,364.20 L252.00,365.41 L252.66,366.58 L253.32,367.72 L253.98,368.83 L254.64,369.91 L255.30,370.96 L255.96,371.99 L256.62,372.98 L257.28,373.96 L257.94,374.91 L258.60,375.84 L259.26,376.75 L259.92,377.64 L260.58,378.52 L261.24,379.38 L261.90,380.22 L262.55,381.05 L263.21,381.85 L263.87,382.65 L264.53,383.42 L265.19,384.18 L265.85,384.93 L266.51,385.66 L267.17,386.37 L267.83,387.07 L268.49,387.75 L269.15,388.42 L269.81,389.08 L270.47,389.72 L271.13,390.34 L271.79,390.95 L272.45,391.55 L273.11,392.14 L273.77,392.71 L274.43,393.26 L275.09,393.81 L275.75,394.34 L276.41,394.86 L277.07,395.36 L277.73,395.86 L278.39,396.34 L279.05,396.81 L279.71,397.27 L280.37,397.71 L281.03,398.15 L281.69,398.57 L282.35,398.99 L283.01,399.39 L283.66,399.78 L284.32,400.16 L284.98,400.53 L285.64,400.90 L286.30,401.25 L286.96,401.59 L287.62,401.92 L288.28,402.24 L288.94,402.56 L289.60,402.86 L290.26,403.16 L290.92,403.45 L291.58,403.73 L292.24,404.00 L292.90,404.26 L293.56,404.52 L294.22,404.77 L294.88,405.01 L295.54,405.24 L296.20,405.47 L296.86,405.69 L297.52,405.91 L298.18,406.11 L298.84,406.32 L299.50,406.51 L300.16,406.70 L300.82,406.88 L301.48,407.06 L302.14,407.24 L302.80,407.41 L303.46,407.57 L304.12,407.73 L304.77,407.88 L305.43,408.03 L306.09,408.18 L306.75,408.32 L307.41,408.46 L308.07,408.60 L308.73,408.73 L309.39,408.86 L310.05,408.98 L310.71,409.11 L311.37,409.23 L312.03,409.35 L312.69,409.46 L313.35,409.58 L314.01,409.69 L314.67,409.80 L315.33,409.91 L315.99,410.02 L316.65,410.12 L317.31,410.23 L317.97,410.33 L318.63,410.44 L319.29,410.54 L319.95,410.64 L320.61,410.74 L321.27,410.84 L321.93,410.94 L322.59,411.03 L323.25,411.13 L323.91,411.22 L324.57,411.31 L325.23,411.41 L325.88,411.50 L326.54,411.59 L327.20,411.67 L327.86,411.76 L328.52,411.85 L329.18,411.93 L329.84,412.01 L330.50,412.10 L331.16,412.18 L331.82,412.26 L332.48,412.34 L333.14,412.42 L333.80,412.49 L334.46,412.57 L335.12,412.64 L335.78,412.72 L336.44,412.79 L337.10,412.86 L337.76,412.93 L338.42,413.00 L339.08,413.07 L339.74,413.14 L340.40,413.21 L341.06,413.27 L341.72,413.34 L342.38,413.40 L343.04,413.46 L343.70,413.53 L344.36,413.59 L345.02,413.65 L345.68,413.71 L346.34,413.76 L346.99,413.82 L347.65,413.88 L348.31,413.93 L348.97,413.99 L349.63,414.04 L350.29,414.10 L350.95,414.15 L351.61,414.20 L352.27,414.25 L352.93,414.30 L353.59,414.35 L354.25,414.39 L354.91,414.44 L355.57,414.49 L356.23,414.53 L356.89,414.58 L357.55,414.62 L358.21,414.66 L358.87,414.71 L359.53,414.75 L360.19,414.79 L360.85,414.83 L361.51,414.87 L362.17,414.90 L362.83,414.94 L363.49,414.98 L364.15,415.01 L364.81,415.05 L365.47,415.08 L366.13,415.12 L366.79,415.15 L367.45,415.18 L368.10,415.21 L368.76,415.24 L369.42,415.28 L370.08,415.30 L370.74,415.33 L371.40,415.36 L372.06,415.39 L372.72,415.42 L373.38,415.44 L374.04,415.47 L374.70,415.49 L375.36,415.52 L376.02,415.54 L376.68,415.57 L377.34,415.59 L378.00,415.61 L378.66,415.63 L379.32,415.65 L379.98,415.67 L380.64,415.69 L381.30,415.71 L381.96,415.73 L382.62,415.75 L383.28,415.77 L383.94,415.79 L384.60,415.80 L385.26,415.82 L385.92,415.83 L386.58,415.85 L387.24,415.86 L387.90,415.88 L388.55,415.89 L389.21,415.91 L389.87,415.92 L390.53,415.93 L391.19,415.94 L391.85,415.96 L392.51,415.97 L393.17,415.98 L393.83,415.99 L394.49,416.00 L395.15,416.01 L395.81,416.02 L396.47,416.03 L397.13,416.03 L397.79,416.04 L398.45,416.05 L399.11,416.06 L399.77,416.06 L400.43,416.07 L401.09,416.08 L401.75,416.08 L402.41,416.09 L403.07,416.09 L403.73,416.10 L404.39,416.10 L405.05,416.11 L405.71,416.11 L406.37,416.12 L407.03,416.12 L407.69,416.12 L408.35,416.13 L409.01,416.13 L409.66,416.13 L410.32,416.13 L410.98,416.14 L411.64,416.14 L412.30,416.14 L412.96,416.14 L413.62,416.14 L414.28,416.14 L414.94,416.15 L415.60,416.15 L416.26,416.15 L416.92,416.15 L417.58,416.15 L418.24,416.15 L418.90,416.15 L419.56,416.15 L420.22,416.15 L420.88,416.15 L421.54,416.15 L422.20,416.15 L422.86,416.15 L423.52,416.15 L424.18,416.14 L424.84,416.14 L425.50,416.14 L426.16,416.14 L426.82,416.14 L427.48,416.14 L428.14,416.14 L428.80,416.14 L429.46,416.14 L430.12,416.14 L430.77,416.13 L431.43,416.13 L432.09,416.13 L432.75,416.13 L433.41,416.13 L434.07,416.13 L434.73,416.13 L435.39,416.13 L436.05,416.13 L436.71,416.13 L437.37,416.12 L438.03,416.12 L438.69,416.12 L439.35,416.12 L440.01,416.12 L440.67,416.12 L441.33,416.12 L441.99,416.12 L442.65,416.12 L443.31,416.12 L443.97,416.12 L444.63,416.12 L445.29,416.12 L445.95,416.12 L446.61,416.12 L447.27,416.12 L447.93,416.13 L448.59,416.13 L449.25,416.13 L449.91,416.13 L450.57,416.13 L451.23,416.13 L451.88,416.14 L452.54,416.14 L453.20,416.14 L453.86,416.14 L454.52,416.15 L455.18,416.15 L455.84,416.16 L456.50,416.16 L457.16,416.16 L457.82,416.17 L458.48,416.17 L459.14,416.18 L459.80,416.18 L460.46,416.19 L461.12,416.20 L461.78,416.20 L462.44,416.21 L463.10,416.22 L463.76,416.22 L464.42,416.23 L465.08,416.24 L465.74,416.25 L466.40,416.26 L467.06,416.27 L467.72,416.28 L468.38,416.29 L469.04,416.30 L469.70,416.31 L470.36,416.32 L471.02,416.33 L471.68,416.35 L472.34,416.36 L472.99,416.37 L473.65,416.39 L474.31,416.39 L474.97,416.39 L475.63,416.39 L476.29,416.39" stroke="#f00" stroke-width="1.65" stroke-dasharray="4.35 7.65" stroke-dashoffset="7.9" fill="none" stroke-linejoin="round" stroke-linecap="round" clip-path="url(#c)"/>
<path d="M58.05,416.35 L58.71,416.36 L59.37,416.37 L60.03,416.37 L60.69,416.38 L61.35,416.38 L62.01,416.39 L62.67,416.39 L63.33,416.39 L63.99,416.39 L64.65,416.39 L65.31,416.39 L65.97,416.39 L66.63,416.39 L67.29,416.39 L67.95,416.39 L68.61,416.39 L69.27,416.39 L69.93,416.39 L70.59,416.39 L71.25,416.39 L71.91,416.39 L72.57,416.39 L73.23,416.39 L73.88,416.39 L74.54,416.39 L75.20,416.39 L75.86,416.39 L76.52,416.39 L77.18,416.39 L77.84,416.39 L78.50,416.39 L79.16,416.39 L79.82,416.39 L80.48,416.39 L81.14,416.39 L81.80,416.39 L82.46,416.39 L83.12,416.39 L83.78,416.39 L84.44,416.39 L85.10,416.39 L85.76,416.39 L86.42,416.39 L87.08,416.39 L87.74,416.39 L88.40,416.38 L89.06,416.38 L89.72,416.38 L90.38,416.38 L91.04,416.37 L91.70,416.37 L92.36,416.37 L93.02,416.36 L93.68,416.36 L94.34,416.36 L94.99,416.35 L95.65,416.35 L96.31,416.35 L96.97,416.35 L97.63,416.34 L98.29,416.34 L98.95,416.34 L99.61,416.33 L100.27,416.33 L100.93,416.33 L101.59,416.33 L102.25,416.33 L102.91,416.32 L103.57,416.32 L104.23,416.32 L104.89,416.32 L105.55,416.32 L106.21,416.32 L106.87,416.32 L107.53,416.32 L108.19,416.31 L108.85,416.31 L109.51,416.31 L110.17,416.31 L110.83,416.32 L111.49,416.32 L112.15,416.32 L112.81,416.32 L113.47,416.32 L114.13,416.32 L114.79,416.32 L115.45,416.33 L116.10,416.33 L116.76,416.33 L117.42,416.33 L118.08,416.34 L118.74,416.34 L119.40,416.34 L120.06,416.34 L120.72,416.34 L121.38,416.35 L122.04,416.35 L122.70,416.35 L123.36,416.34 L124.02,416.34 L124.68,416.34 L125.34,416.34 L126.00,416.33 L126.66,416.32 L127.32,416.32 L127.98,416.31 L128.64,416.30 L129.30,416.28 L129.96,416.27 L130.62,416.25 L131.28,416.24 L131.94,416.22 L132.60,416.19 L133.26,416.17 L133.92,416.14 L134.58,416.11 L135.24,416.08 L135.90,416.05 L136.55,416.01 L137.21,415.97 L137.87,415.93 L138.53,415.89 L139.19,415.84 L139.85,415.79 L140.51,415.74 L141.17,415.68 L141.83,415.62 L142.49,415.55 L143.15,415.49 L143.81,415.41 L144.47,415.34 L145.13,415.26 L145.79,415.18 L146.45,415.09 L147.11,415.00 L147.77,414.91 L148.43,414.81 L149.09,414.70 L149.75,414.59 L150.41,414.48 L151.07,414.36 L151.73,414.24 L152.39,414.12 L153.05,413.98 L153.71,413.85 L154.37,413.70 L155.03,413.56 L155.69,413.41 L156.35,413.25 L157.01,413.08 L157.66,412.92 L158.32,412.74 L158.98,412.56 L159.64,412.37 L160.30,412.18 L160.96,411.99 L161.62,411.78 L162.28,411.57 L162.94,411.35 L163.60,411.12 L164.26,410.88 L164.92,410.63 L165.58,410.36 L166.24,410.09 L166.90,409.80 L167.56,409.50 L168.22,409.18 L168.88,408.84 L169.54,408.49 L170.20,408.13 L170.86,407.74 L171.52,407.34 L172.18,406.91 L172.84,406.47 L173.50,406.00 L174.16,405.51 L174.82,405.00 L175.48,404.47 L176.14,403.91 L176.80,403.32 L177.46,402.71 L178.12,402.07 L178.77,401.41 L179.43,400.71 L180.09,399.99 L180.75,399.23 L181.41,398.45 L182.07,397.63 L182.73,396.78 L183.39,395.89 L184.05,394.98 L184.71,394.02 L185.37,393.03 L186.03,392.01 L186.69,390.94 L187.35,389.84 L188.01,388.70 L188.67,387.52 L189.33,386.31 L189.99,385.06 L190.65,383.77 L191.31,382.45 L191.97,381.10 L192.63,379.72 L193.29,378.31 L193.95,376.88 L194.61,375.41 L195.27,373.92 L195.93,372.40 L196.59,370.86 L197.25,369.30 L197.91,367.72 L198.57,366.11 L199.23,364.49 L199.88,362.85 L200.54,361.19 L201.20,359.51 L201.86,357.83 L202.52,356.12 L203.18,354.41 L203.84,352.68 L204.50,350.95 L205.16,349.20 L205.82,347.45 L206.48,345.69 L207.14,343.93 L207.80,342.16 L208.46,340.39 L209.12,338.62 L209.78,336.85 L210.44,335.07 L211.10,333.30 L211.76,331.54 L212.42,329.77 L213.08,328.01 L213.74,326.26 L214.40,324.51 L215.06,322.78 L215.72,321.05 L216.38,319.33 L217.04,317.63 L217.70,315.94 L218.36,314.26 L219.02,312.58 L219.68,310.90 L220.34,309.22 L220.99,307.54 L221.65,305.84 L222.31,304.13 L222.97,302.40 L223.63,300.65 L224.29,298.88 L224.95,297.11 L225.61,295.35 L226.27,293.62 L226.93,291.92 L227.59,290.29 L228.25,288.73 L228.91,287.24 L229.57,285.83 L230.23,284.49 L230.89,283.24 L231.55,282.05 L232.21,280.95 L232.87,279.92 L233.53,278.98 L234.19,278.10 L234.85,277.31 L235.51,276.60 L236.17,275.96 L236.83,275.41 L237.49,274.93 L238.15,274.54 L238.81,274.22 L239.47,273.96 L240.13,273.75 L240.79,273.59 L241.45,273.47 L242.10,273.37 L242.76,273.28 L243.42,273.20 L244.08,273.11 L244.74,273.01 L245.40,272.88 L246.06,272.71 L246.72,272.50 L247.38,272.24 L248.04,271.91 L248.70,271.51 L249.10,271.22 L249.36,271.42 L250.02,271.95 L250.68,272.52 L251.34,273.13 L252.00,273.78 L252.66,274.47 L253.32,275.20 L253.98,275.96 L254.64,276.75 L255.30,277.58 L255.96,278.44 L256.62,279.33 L257.28,280.26 L257.94,281.21 L258.60,282.19 L259.26,283.20 L259.92,284.23 L260.58,285.29 L261.24,286.38 L261.90,287.49 L262.55,288.62 L263.21,289.77 L263.87,290.94 L264.53,292.13 L265.19,293.34 L265.85,294.57 L266.51,295.81 L267.17,297.07 L267.83,298.34 L268.49,299.62 L269.15,300.92 L269.81,302.23 L270.47,303.55 L271.13,304.88 L271.79,306.22 L272.45,307.56 L273.11,308.92 L273.77,310.28 L274.43,311.64 L275.09,313.01 L275.75,314.39 L276.41,315.77 L277.07,317.15 L277.73,318.53 L278.39,319.91 L279.05,321.30 L279.71,322.68 L280.37,324.06 L281.03,325.44 L281.69,326.81 L282.35,328.18 L283.01,329.55 L283.66,330.91 L284.32,332.26 L284.98,333.61 L285.64,334.95 L286.30,336.28 L286.96,337.60 L287.62,338.91 L288.28,340.22 L288.94,341.51 L289.60,342.80 L290.26,344.08 L290.92,345.34 L291.58,346.60 L292.24,347.84 L292.90,349.07 L293.56,350.30 L294.22,351.51 L294.88,352.70 L295.54,353.89 L296.20,355.06 L296.86,356.22 L297.52,357.37 L298.18,358.50 L298.84,359.62 L299.50,360.73 L300.16,361.82 L300.82,362.89 L301.48,363.95 L302.14,365.00 L302.80,366.03 L303.46,367.04 L304.12,368.04 L304.77,369.02 L305.43,369.98 L306.09,370.93 L306.75,371.86 L307.41,372.77 L308.07,373.67 L308.73,374.55 L309.39,375.42 L310.05,376.26 L310.71,377.10 L311.37,377.92 L312.03,378.72 L312.69,379.51 L313.35,380.28 L314.01,381.04 L314.67,381.79 L315.33,382.52 L315.99,383.24 L316.65,383.94 L317.31,384.63 L317.97,385.31 L318.63,385.97 L319.29,386.63 L319.95,387.27 L320.61,387.90 L321.27,388.51 L321.93,389.12 L322.59,389.71 L323.25,390.29 L323.91,390.87 L324.57,391.43 L325.23,391.98 L325.88,392.52 L326.54,393.05 L327.20,393.57 L327.86,394.08 L328.52,394.58 L329.18,395.07 L329.84,395.56 L330.50,396.03 L331.16,396.50 L331.82,396.95 L332.48,397.40 L333.14,397.85 L333.80,398.28 L334.46,398.70 L335.12,399.12 L335.78,399.53 L336.44,399.93 L337.10,400.32 L337.76,400.71 L338.42,401.08 L339.08,401.45 L339.74,401.81 L340.40,402.17 L341.06,402.52 L341.72,402.86 L342.38,403.19 L343.04,403.52 L343.70,403.83 L344.36,404.15 L345.02,404.45 L345.68,404.75 L346.34,405.04 L346.99,405.33 L347.65,405.61 L348.31,405.88 L348.97,406.14 L349.63,406.40 L350.29,406.66 L350.95,406.91 L351.61,407.15 L352.27,407.38 L352.93,407.61 L353.59,407.84 L354.25,408.06 L354.91,408.27 L355.57,408.48 L356.23,408.68 L356.89,408.88 L357.55,409.07 L358.21,409.25 L358.87,409.43 L359.53,409.61 L360.19,409.78 L360.85,409.95 L361.51,410.11 L362.17,410.27 L362.83,410.42 L363.49,410.57 L364.15,410.72 L364.81,410.85 L365.47,410.99 L366.13,411.12 L366.79,411.25 L367.45,411.37 L368.10,411.49 L368.76,411.61 L369.42,411.72 L370.08,411.83 L370.74,411.94 L371.40,412.04 L372.06,412.14 L372.72,412.23 L373.38,412.32 L374.04,412.41 L374.70,412.50 L375.36,412.58 L376.02,412.66 L376.68,412.74 L377.34,412.81 L378.00,412.88 L378.66,412.95 L379.32,413.02 L379.98,413.09 L380.64,413.15 L381.30,413.21 L381.96,413.27 L382.62,413.32 L383.28,413.38 L383.94,413.43 L384.60,413.48 L385.26,413.53 L385.92,413.58 L386.58,413.62 L387.24,413.67 L387.90,413.71 L388.55,413.75 L389.21,413.80 L389.87,413.83 L390.53,413.87 L391.19,413.91 L391.85,413.95 L392.51,413.99 L393.17,414.02 L393.83,414.06 L394.49,414.09 L395.15,414.13 L395.81,414.16 L396.47,414.20 L397.13,414.23 L397.79,414.26 L398.45,414.30 L399.11,414.33 L399.77,414.36 L400.43,414.40 L401.09,414.43 L401.75,414.47 L402.41,414.50 L403.07,414.54 L403.73,414.57 L404.39,414.61 L405.05,414.64 L405.71,414.67 L406.37,414.71 L407.03,414.74 L407.69,414.78 L408.35,414.81 L409.01,414.85 L409.66,414.88 L410.32,414.91 L410.98,414.95 L411.64,414.98 L412.30,415.02 L412.96,415.05 L413.62,415.08 L414.28,415.12 L414.94,415.15 L415.60,415.18 L416.26,415.22 L416.92,415.25 L417.58,415.28 L418.24,415.31 L418.90,415.35 L419.56,415.38 L420.22,415.41 L420.88,415.44 L421.54,415.47 L422.20,415.50 L422.86,415.53 L423.52,415.56 L424.18,415.59 L424.84,415.62 L425.50,415.65 L426.16,415.68 L426.82,415.71 L427.48,415.74 L428.14,415.77 L428.80,415.79 L429.46,415.82 L430.12,415.85 L430.77,415.87 L431.43,415.90 L432.09,415.93 L432.75,415.95 L433.41,415.97 L434.07,416.00 L434.73,416.02 L435.39,416.05 L436.05,416.07 L436.71,416.09 L437.37,416.11 L438.03,416.13 L438.69,416.15 L439.35,416.17 L440.01,416.19 L440.67,416.21 L441.33,416.23 L441.99,416.25 L442.65,416.26 L443.31,416.28 L443.97,416.29 L444.63,416.31 L445.29,416.32 L445.95,416.34 L446.61,416.35 L447.27,416.36 L447.93,416.37 L448.59,416.39 L449.25,416.39 L449.91,416.39 L450.57,416.39 L451.23,416.39 L451.88,416.39 L452.54,416.39 L453.20,416.39 L453.86,416.39 L454.52,416.39 L455.18,416.39 L455.84,416.39 L456.50,416.39 L457.16,416.39 L457.82,416.39 L458.48,416.39 L459.14,416.39 L459.80,416.39 L460.46,416.39 L461.12,416.39 L461.78,416.39 L462.44,416.39 L463.10,416.39 L463.76,416.39 L464.42,416.39 L465.08,416.39 L465.74,416.38 L466.40,416.37 L467.06,416.36 L467.72,416.34 L468.38,416.33 L469.04,416.31 L469.70,416.29 L470.36,416.27 L471.02,416.25 L471.68,416.23 L472.34,416.21 L472.99,416.19 L473.65,416.16 L474.31,416.14 L474.97,416.11 L475.63,416.08 L476.29,416.05" stroke="#00f" stroke-width="1.65" stroke-dasharray="0.01 6.15" stroke-dashoffset="2.3" fill="none" stroke-linejoin="round" stroke-linecap="round" clip-path="url(#c)"/>
<line x1="296.59" y1="155.14" x2="318.63" y2="155.14" stroke="#000" stroke-width="1.65" stroke-linecap="round"/>
<text x="329.97" y="159.74" textLength="50.8" lengthAdjust="spacingAndGlyphs">Expert E1</text>
<line x1="296.59" y1="169.59" x2="318.63" y2="169.59" stroke="#f00" stroke-width="1.65" stroke-linecap="round" stroke-dasharray="4.35 7.65"/>
<text x="329.97" y="174.19" textLength="50.8" lengthAdjust="spacingAndGlyphs">Expert E2</text>
<line x1="296.59" y1="184.03" x2="318.63" y2="184.03" stroke="#00f" stroke-width="1.65" stroke-linecap="round" stroke-dasharray="0.01 6.15"/>
<text x="329.97" y="188.63" textLength="64.1" lengthAdjust="spacingAndGlyphs">Aggregation</text>
<line x1="296.59" y1="198.47" x2="318.63" y2="198.47" stroke="#f0f" stroke-width="1.65" stroke-linecap="round" stroke-dasharray="0.01 6.15 4.35 6.15"/>
<text x="329.97" y="203.07" textLength="73.9" lengthAdjust="spacingAndGlyphs">Noninf. Bayes</text>
</svg></body></html>
